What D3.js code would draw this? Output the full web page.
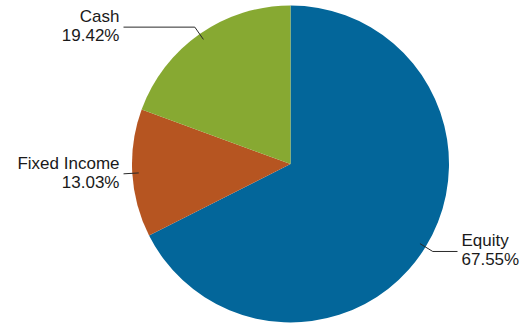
<!DOCTYPE html>
<html>
<head>
<meta charset="utf-8">
<script src="https://cdn.jsdelivr.net/npm/d3@7"></script>
<style>
html,body{margin:0;padding:0;background:#fff;}
svg{display:block;font-family:"Liberation Sans",Arial,sans-serif;}
</style>
</head>
<body>
<svg id="chart" width="520" height="326"></svg>
<script>
const categories = ["Equity", "Fixed Income", "Cash"];
const values = [67.55, 13.03, 19.42];
const colors = ["#03669a", "#b65521", "#87a932"];

const W = 520, H = 326;
const cx = 290.5, cy = 164, R = 158.5;
const svg = d3.select("#chart");
const g = svg.append("g").attr("transform", `translate(${cx},${cy})`);

const data = categories.map((c, i) => ({cat: c, val: values[i], color: colors[i]}));
const pie = d3.pie().value(d => d.val).sort(null);
const arcs = pie(data);
const arc = d3.arc().innerRadius(0).outerRadius(R);

g.selectAll("path.slice").data(arcs).enter().append("path")
  .attr("class", "slice")
  .attr("d", arc)
  .attr("fill", d => d.data.color);

const rIn = R - 6.5, rBend = R + 8.5, xEnd = R + 8.5, xText = R + 12.5;
arcs.forEach(a => {
  const m = (a.startAngle + a.endAngle) / 2;
  const p0 = [rIn * Math.sin(m), -rIn * Math.cos(m)];
  const p1 = [rBend * Math.sin(m), -rBend * Math.cos(m)];
  const right = Math.sin(m) > 0;
  const p2 = [right ? xEnd : -xEnd, p1[1]];
  g.append("path")
    .attr("d", d3.line()([p0, p1, p2]))
    .attr("fill", "none")
    .attr("stroke", "#2a2a2a")
    .attr("stroke-width", 1);
  const t = g.append("text")
    .attr("text-anchor", right ? "start" : "end")
    .attr("font-size", 17)
    .attr("fill", "#1a1a1a");
  t.append("tspan").attr("x", right ? xText : -xText).attr("y", p1[1] - 5).text(a.data.cat);
  t.append("tspan").attr("x", right ? xText : -xText).attr("y", p1[1] + 14).text(d3.format(".2f")(a.data.val) + "%");
});
</script>
</body>
</html>
